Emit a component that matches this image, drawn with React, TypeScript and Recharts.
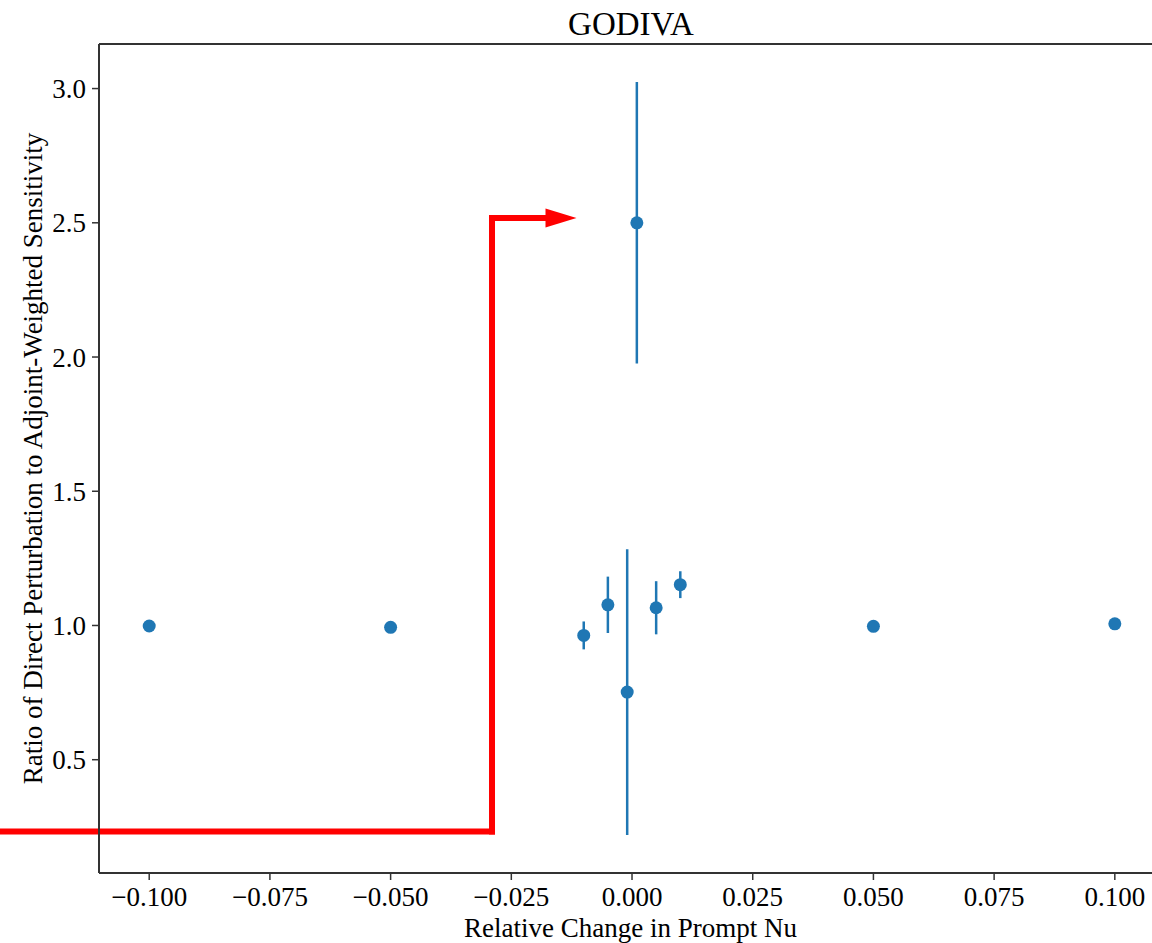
import {
  ScatterChart,
  Scatter,
  XAxis,
  YAxis,
  ErrorBar,
  ReferenceLine,
  ReferenceDot,
  Customized,
} from "recharts";

// relative change in prompt nu
const changes = [-0.1, -0.05, -0.01, -0.005, -0.001, 0.001, 0.005, 0.01, 0.05, 0.1];
// ratio direct perturbation / adjoint-weighted sensitivity
const ratios = [0.998, 0.993, 0.963, 1.077, 0.752, 2.5, 1.066, 1.152, 0.997, 1.006];
// 1-sigma uncertainty
const errors = [0, 0, 0.052, 0.105, 0.532, 0.524, 0.099, 0.05, 0, 0];

const xTicks = [-0.1, -0.075, -0.05, -0.025, 0, 0.025, 0.05, 0.075, 0.1];
const yTicks = [0.5, 1.0, 1.5, 2.0, 2.5, 3.0];

// red annotation arrow (data coordinates)
const arrowX = [-0.1308, -0.029, -0.0179];
const arrowY = [0.2326, 2.518];
const arrowTip = -0.0115;

const X_DOMAIN = [-0.1104, 0.1077];
const Y_DOMAIN = [0.078, 3.166];

const data = changes.map((x, i) => ({ x, y: ratios[i], err: errors[i] }));

const FONT = '"Liberation Serif", "DejaVu Serif", serif';
const BLUE = "#1f77b4";
const AXIS = "#333333";

const fmtX = (v: number) => {
  if (Math.abs(v) < 1e-9) return "0.000";
  return v < 0 ? "\u2212" + Math.abs(v).toFixed(3) : v.toFixed(3);
};

const Dot = (p: any) => <circle cx={p.cx} cy={p.cy} r={6.5} fill={BLUE} />;

const ArrowHead = (p: any) => (
  <polygon
    points={`${p.cx},${p.cy} ${p.cx - 31},${p.cy - 9.5} ${p.cx - 31},${p.cy + 9.5}`}
    fill="#ff0000"
  />
);

const Title = () => (
  <text
    x={631}
    y={35}
    textAnchor="middle"
    style={{ fontFamily: FONT, fontSize: 33, fill: "#000" }}
  >
    GODIVA
  </text>
);

export default function App() {
  return (
    <div style={{ position: "absolute", left: 0, top: 0, width: 1152, height: 943, background: "#fff" }}>
      <ScatterChart width={1152} height={943} margin={{ top: 44, right: 0, bottom: 0, left: 0 }}>
        <XAxis
          type="number"
          dataKey="x"
          domain={X_DOMAIN}
          allowDataOverflow
          ticks={xTicks}
          tickFormatter={fmtX}
          height={70}
          tickSize={7}
          tickMargin={7}
          interval={0}
          axisLine={{ stroke: AXIS, strokeWidth: 2 }}
          tickLine={{ stroke: AXIS, strokeWidth: 1.5 }}
          tick={{ fill: "#000", fontSize: 27, fontFamily: FONT }}
          label={{
            value: "Relative Change in Prompt Nu",
            position: "insideBottom",
            offset: 6,
            dx: 5,
            style: { fill: "#000", fontSize: 27, fontFamily: FONT },
          }}
        />
        <YAxis
          type="number"
          dataKey="y"
          domain={Y_DOMAIN}
          allowDataOverflow
          ticks={yTicks}
          tickFormatter={(v: number) => v.toFixed(1)}
          width={99}
          tickSize={7}
          tickMargin={6}
          interval={0}
          axisLine={{ stroke: AXIS, strokeWidth: 2 }}
          tickLine={{ stroke: AXIS, strokeWidth: 1.5 }}
          tick={{ fill: "#000", fontSize: 27, fontFamily: FONT }}
          label={{
            value: "Ratio of Direct Perturbation to Adjoint-Weighted Sensitivity",
            angle: -90,
            position: "insideLeft",
            offset: 32,
            style: { fill: "#000", fontSize: 27, fontFamily: FONT, textAnchor: "middle" },
          }}
        />
        <ReferenceLine y={Y_DOMAIN[1]} stroke={AXIS} strokeWidth={2} ifOverflow="visible" />
        <Scatter data={data} shape={Dot} isAnimationActive={false}>
          <ErrorBar dataKey="err" direction="y" width={0} stroke={BLUE} strokeWidth={2.5} />
        </Scatter>
        <ReferenceLine
          segment={[
            { x: arrowX[0], y: arrowY[0] },
            { x: arrowX[1], y: arrowY[0] },
          ]}
          stroke="#ff0000"
          strokeWidth={6}
          strokeLinecap="square"
          ifOverflow="visible"
        />
        <ReferenceLine
          segment={[
            { x: arrowX[1], y: arrowY[0] },
            { x: arrowX[1], y: arrowY[1] },
          ]}
          stroke="#ff0000"
          strokeWidth={6}
          strokeLinecap="square"
          ifOverflow="visible"
        />
        <ReferenceLine
          segment={[
            { x: arrowX[1], y: arrowY[1] },
            { x: arrowX[2], y: arrowY[1] },
          ]}
          stroke="#ff0000"
          strokeWidth={6}
          strokeLinecap="square"
          ifOverflow="visible"
        />
        <ReferenceDot x={arrowTip} y={arrowY[1]} shape={ArrowHead} ifOverflow="visible" />
        <Customized component={Title} />
      </ScatterChart>
    </div>
  );
}
